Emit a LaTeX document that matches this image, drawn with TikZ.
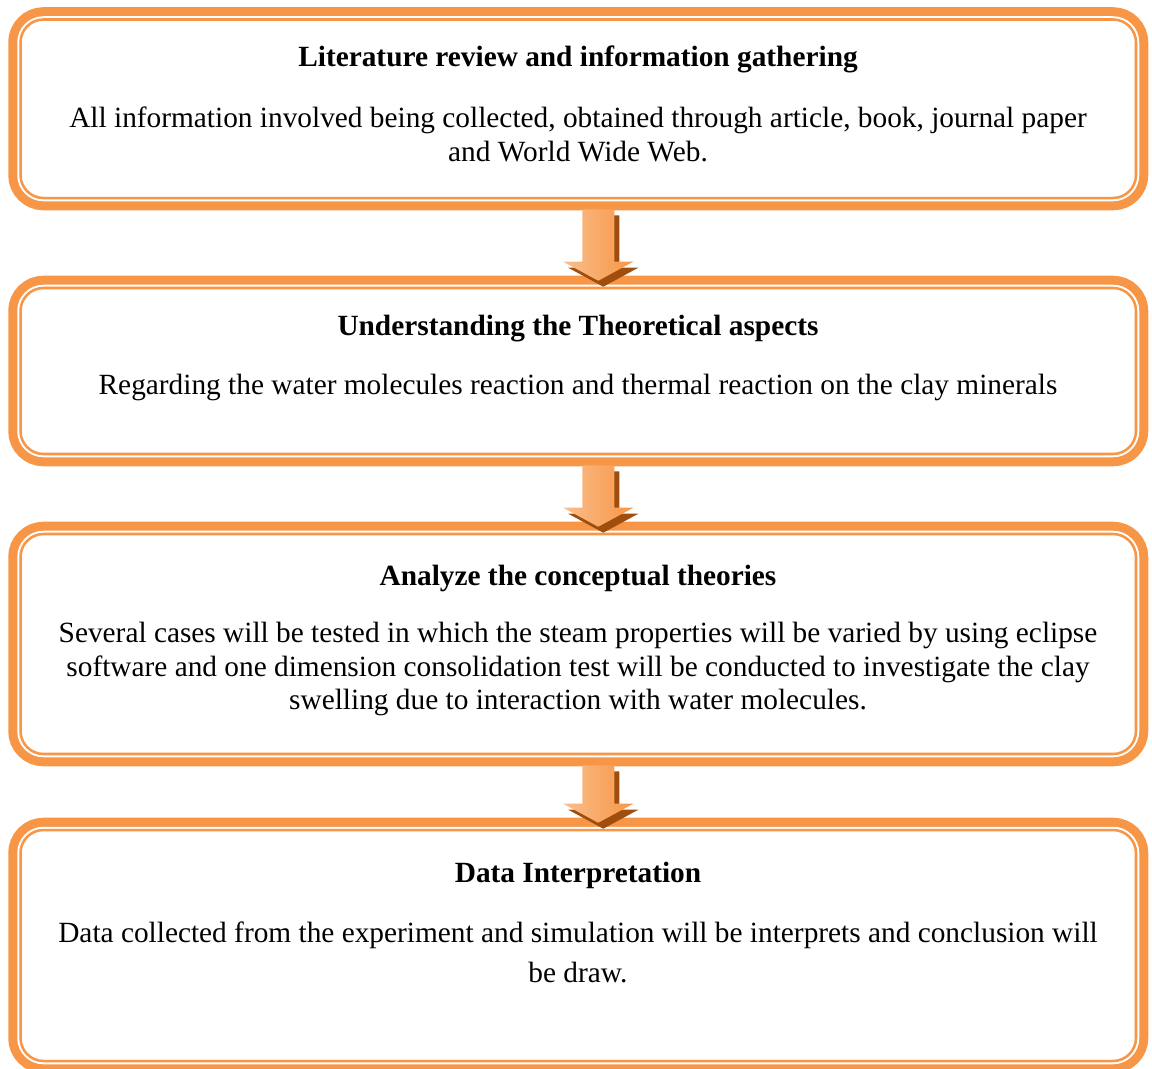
\documentclass[tikz,border=0pt]{standalone}
\usepackage{fontspec}
\setmainfont{Liberation Serif}
\usetikzlibrary{calc}

\definecolor{boxorange}{RGB}{247,150,70}
\definecolor{arrowlight}{RGB}{250,190,140}
\definecolor{arrowdark}{RGB}{160,78,14}

\tikzset{
  stagebox/.style={rectangle, rounded corners=17.25pt, minimum width=836.6pt, inner sep=0pt,
    draw=boxorange, line width=1.9pt, fill=white,
    preaction={draw=boxorange, line width=18.4pt},
    preaction={draw=white, line width=4.9pt}},
  stagetitle/.style={font=\fontsize{22}{25}\selectfont\bfseries, inner sep=0.75pt},
  stagetext/.style={font=\fontsize{22}{25.1}\selectfont, align=center, inner sep=0.75pt},
}

% outline of the block arrow: #1 = top of shaft, #2 = tip
\newcommand{\arrowpath}[2]{($(#1)+(-16,0)$) -- ($(#2)+(-16,-19)$) -- ($(#2)+(-35,-19)$) -- (#2) -- ($(#2)+(35,-19)$) -- ($(#2)+(16,-19)$) -- ($(#1)+(16,0)$) -- cycle}

\begin{document}
\begin{tikzpicture}[x=0.75pt,y=0.75pt,yscale=-1,xscale=1]
\useasboundingbox (0,0) rectangle (1152,1068);

%Rounded Rect: stages
\node[stagebox, minimum height=133.9pt] (b1) at (578.25,108.75) {};
\node[stagebox, minimum height=124.5pt] (b2) at (578.25,371) {};
\node[stagebox, minimum height=165pt] (b3) at (578.25,644) {};
\node[stagebox, minimum height=173.25pt] (b4) at (578.25,945.5) {};

%Block arrows between stages
\foreach \a/\b in {b1/b2, b2/b3, b3/b4}{
  \coordinate (s) at ($(\a.south)+(20,10)$);
  \coordinate (e) at ($(\b.north)+(20,-6)$);
  \coordinate (ss) at ($(s)+(5,6)$);
  \coordinate (es) at ($(e)+(5,6)$);
  \fill[arrowdark] \arrowpath{ss}{es};
  \shade[left color=arrowlight, right color=boxorange] \arrowpath{s}{e};
}

% Text Node
\node[stagetitle] (t1) at (578,59) {Literature review and information gathering};
% Text Node
\node[stagetext] (d1) at (578,134.5) {All information involved being collected, obtained through article, book, journal paper\\and World Wide Web.};
% Text Node
\node[stagetitle] (t2) at (578,329) {Understanding the Theoretical aspects};
% Text Node
\node[stagetext] (d2) at (578,387) {Regarding the water molecules reaction and thermal reaction on the clay minerals};
% Text Node
\node[stagetitle] (t3) at (578,578) {Analyze the conceptual theories};
% Text Node
\node[stagetext] (d3) at (578,669) {Several cases will be tested in which the steam properties will be varied by using eclipse\\software and one dimension consolidation test will be conducted to investigate the clay\\swelling due to interaction with water molecules.};
% Text Node
\node[stagetitle] (t4) at (578,875) {Data Interpretation};
% Text Node
\node[stagetext] (d4) at (578,952) {Data collected from the experiment and simulation will be interprets and conclusion will\\[4.9pt]be draw.};

\end{tikzpicture}
\end{document}
